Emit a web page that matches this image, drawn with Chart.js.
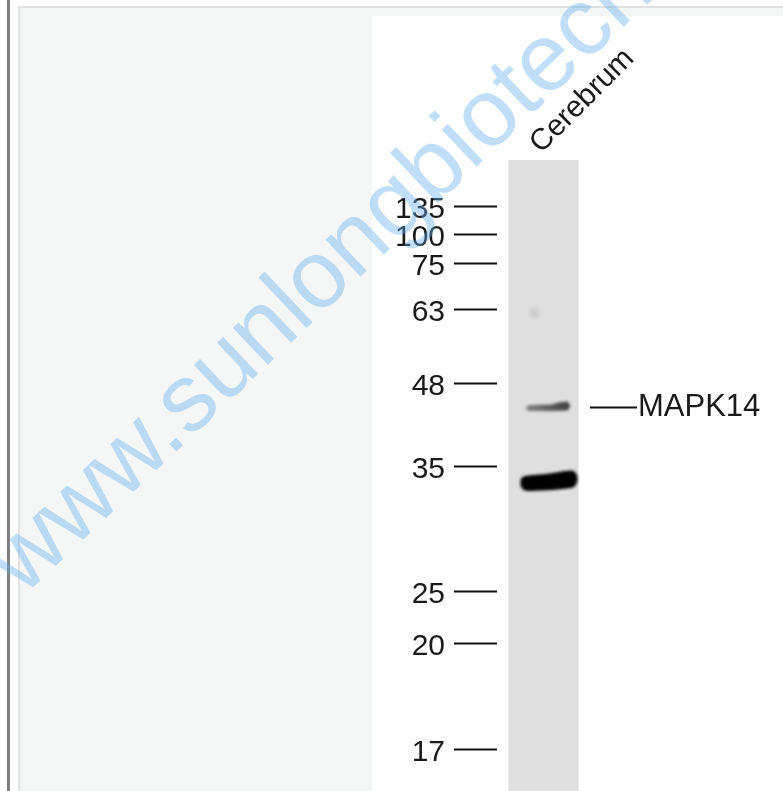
<!DOCTYPE html>
<html><head><meta charset="utf-8">
<script src="https://cdn.jsdelivr.net/npm/chart.js@4.4.1/dist/chart.umd.min.js"></script>
<style>
html,body{margin:0;padding:0;background:#fff;width:783px;height:791px;overflow:hidden;}
#frame{position:absolute;left:7px;top:0;width:3px;height:791px;background:#808080;}
#topline{position:absolute;left:18px;top:6px;width:765px;height:2px;background:#dfe1e1;}
#panel{position:absolute;left:18px;top:8px;width:765px;height:783px;background:#f5f7f7;border-left:2px solid #e2e4e4;box-sizing:border-box;}
#white{position:absolute;left:372px;top:16px;width:411px;height:775px;background:#fff;}
#wrap{position:absolute;left:0;top:0;width:783px;height:791px;}
</style></head>
<body>
<div id="frame"></div><div id="topline"></div><div id="panel"></div><div id="white"></div>
<div id="wrap"><canvas id="c"></canvas></div>
<script>
// ---- data read from the blot ----
const laneNames = ['Cerebrum'];
const laneLength = 631;                       // migration units from the well to the bottom of the image
const markerLabels = ['135','100','75','63','48','35','25','20','17'];   // kDa
const markerMigration = [46,74,103,149,223,306,431,483,589];
const bandMigration = [153,247,322];
const bandIntensity = [0.07,0.72,1.0];
const targetLabels = ['MAPK14'];
const targetBand = [1];
const watermarkText = 'www.sunlongbiotech.com';

// ---- styles ----
const FONT = '"Liberation Sans", Arial, sans-serif';
const laneColor = '#dfdfdf';

function bandCanvas(w, h, draw) {
  const c = document.createElement('canvas');
  c.width = w; c.height = h;
  draw(c.getContext('2d'));
  return c;
}
const bandImages = bandMigration.map((m, i) => {
  const a = bandIntensity[i];
  if (i === 0) {
    return bandCanvas(40, 28, g => {
      const r = g.createRadialGradient(11, 14, 0, 11, 14, 8);
      r.addColorStop(0, `rgba(0,0,0,${a * 1.4})`);
      r.addColorStop(1, 'rgba(0,0,0,0)');
      g.fillStyle = r; g.fillRect(0, 0, 40, 28);
    });
  }
  if (i === 1) {
    return bandCanvas(60, 22, g => {
      g.filter = 'blur(1.5px)';
      const lg = g.createLinearGradient(12, 0, 58, 0);
      lg.addColorStop(0, `rgba(0,0,0,${a * 0.55})`);
      lg.addColorStop(0.5, `rgba(0,0,0,${a * 0.8})`);
      lg.addColorStop(1, `rgba(0,0,0,${a})`);
      g.fillStyle = lg;
      g.beginPath();
      g.moveTo(12.5, 12);
      g.quadraticCurveTo(13, 9, 16, 9);
      g.lineTo(38, 8.5);
      g.quadraticCurveTo(46, 5.5, 54, 5.5);
      g.quadraticCurveTo(59, 10, 54, 14.5);
      g.lineTo(40, 15);
      g.lineTo(16, 15);
      g.quadraticCurveTo(12.5, 15, 12.5, 12);
      g.fill();
    });
  }
  return bandCanvas(76, 36, g => {
    g.filter = 'blur(1.5px)';
    g.fillStyle = `rgba(0,0,0,${a})`;
    g.beginPath();
    g.moveTo(15, 19);
    g.bezierCurveTo(14, 12, 20, 11.5, 28, 11);
    g.bezierCurveTo(45, 10, 58, 6.5, 66, 6.5);
    g.bezierCurveTo(74, 7, 74, 22, 66, 24);
    g.bezierCurveTo(55, 25.5, 40, 26.5, 26, 27);
    g.bezierCurveTo(17, 27.5, 15, 24, 15, 19);
    g.fill();
  });
});

const watermark = {
  id: 'watermark',
  afterDraw(chart) {
    const ctx = chart.ctx;
    ctx.save();
    ctx.translate(23, 597);
    ctx.rotate(-43.5 * Math.PI / 180);
    ctx.font = '96px ' + FONT;
    ctx.fillStyle = 'rgba(98,172,238,0.4)';
    ctx.textBaseline = 'alphabetic';
    ctx.fillText(watermarkText, 0, 0);
    ctx.restore();
  }
};

function noPad(s) { s.paddingTop = 0; s.paddingBottom = 0; s.paddingLeft = 0; s.paddingRight = 0; }

new Chart(document.getElementById('c'), {
  type: 'bar',
  data: {
    labels: laneNames,
    datasets: [
      {
        type: 'scatter',
        label: 'bands',
        data: bandMigration.map(m => ({ x: laneNames[0], y: m })),
        pointStyle: bandImages,
        pointRadius: 10,
        order: 0,
        yAxisID: 'y'
      },
      {
        type: 'bar',
        label: 'lane',
        data: laneNames.map(() => [0, laneLength]),
        backgroundColor: laneColor,
        borderWidth: 0,
        categoryPercentage: 1,
        barPercentage: 0.755,
        grouped: false,
        order: 1,
        yAxisID: 'y'
      }
    ]
  },
  options: {
    responsive: true,
    maintainAspectRatio: false,
    animation: false,
    events: [],
    layout: { padding: 0, autoPadding: false },
    plugins: { legend: { display: false }, tooltip: { enabled: false } },
    scales: {
      x: {
        type: 'category',
        position: 'top',
        offset: true,
        grid: { display: false },
        border: { display: false },
        ticks: {
          font: { size: 30, family: FONT },
          color: '#1a1a1a',
          minRotation: 45, maxRotation: 45,
          padding: -9,
          labelOffset: 17,
          autoSkip: false
        },
        afterFit(s) { s.height = 160; noPad(s); }
      },
      y: {
        min: 0, max: laneLength, reverse: true,
        border: { display: false },
        position: 'left',
        grid: { drawOnChartArea: false, drawTicks: true, tickLength: 43, tickWidth: 2, tickColor: '#111' },
        ticks: {
          autoSkip: false,
          font: { size: 30, family: FONT },
          color: '#1a1a1a',
          padding: 9,
          labelOffset: 4,
          callback: v => markerLabels[markerMigration.indexOf(v)]
        },
        afterBuildTicks(s) { s.ticks = markerMigration.map(v => ({ value: v })); },
        afterFit(s) { s.width = 497; noPad(s); }
      },
      y2: {
        min: 0, max: laneLength, reverse: true,
        border: { display: false },
        position: 'right',
        grid: { drawOnChartArea: false, drawTicks: true, tickLength: 47, tickWidth: 2, tickColor: '#111' },
        ticks: {
          autoSkip: false,
          font: { size: 31, family: FONT },
          color: '#1a1a1a',
          padding: 1,
          labelOffset: 0,
          callback: v => targetLabels[targetBand.findIndex(b => bandMigration[b] === v)]
        },
        afterBuildTicks(s) { s.ticks = targetBand.map(b => ({ value: bandMigration[b] })); },
        afterFit(s) { s.width = 193; noPad(s); }
      }
    }
  },
  plugins: [watermark]
});
</script>
</body></html>
